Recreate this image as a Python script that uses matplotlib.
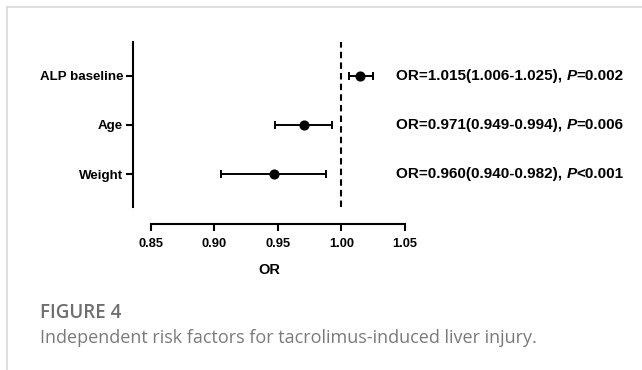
import matplotlib
matplotlib.use("Agg")
import matplotlib.pyplot as plt
from matplotlib.lines import Line2D

# values
factors = ["Weight", "Age", "ALP baseline"]
or_point = [0.947, 0.971, 1.015]
ci_low = [0.905, 0.948, 1.006]
ci_high = [0.988, 0.993, 1.025]
or_text = ["OR=0.960(0.940-0.982), ", "OR=0.971(0.949-0.994), ", "OR=1.015(1.006-1.025), "]
p_text = ["<0.001", "=0.006", "=0.002"]
xticks = [0.85, 0.90, 0.95, 1.00, 1.05]

W, H = 642, 370
plt.rcParams["font.family"] = ["Liberation Sans", "DejaVu Sans"]

fig = plt.figure(figsize=(W / 100, H / 100), dpi=100)

# grey frame (left + top)
fig.add_artist(Line2D([7 / W, 7 / W], [0, 1 - 7 / H], transform=fig.transFigure, color="#d8d8d8", lw=1.2))
fig.add_artist(Line2D([7 / W, 1], [1 - 7 / H, 1 - 7 / H], transform=fig.transFigure, color="#d8d8d8", lw=1.2))

ax = fig.add_axes([133 / W, (H - 207) / H, (404.7 - 133) / W, (207 - 42) / H])
ax.set_xlim(0.8358, 1.05)
ax.set_ylim(-0.67, 2.686)

ypos = list(range(len(factors)))
xerr = [[p - lo for p, lo in zip(or_point, ci_low)], [hi - p for p, hi in zip(or_point, ci_high)]]
ax.errorbar(or_point, ypos, xerr=xerr, fmt="o", color="black", ms=6.3, elinewidth=1.4,
            capsize=2.9, capthick=1.4, zorder=3)
ax.axvline(1.0, color="black", lw=1.5, dashes=(3.1, 2.0), ymin=0, ymax=1.0)

for sp in ["top", "right"]:
    ax.spines[sp].set_visible(False)
ax.spines["left"].set_linewidth(1.5)
ax.spines["bottom"].set_linewidth(1.5)
ax.spines["bottom"].set_position(("outward", 12.5))
ax.spines["bottom"].set_bounds(0.85, 1.05)

ax.set_xticks(xticks)
ax.set_xticklabels([f"{v:.2f}" for v in xticks], fontsize=9.3, fontweight="bold")
ax.set_yticks(ypos)
ax.set_yticklabels(factors, fontsize=9.6, fontweight="bold")
ax.tick_params(axis="both", length=5, width=1.5, color="black")
ax.tick_params(axis="y", pad=2)
ax.tick_params(axis="x", pad=5)
ax.set_xlabel("OR", fontsize=10.5, fontweight="bold", labelpad=9)

for y, t1, t2 in zip(ypos, or_text, p_text):
    a = ax.text(1.0431, y, t1, fontsize=11, fontweight="bold", va="center", ha="left", clip_on=False)
    b = ax.annotate("P", xy=(1, 0), xycoords=a, va="bottom", ha="left",
                    fontsize=11, fontweight="bold", fontstyle="italic")
    ax.annotate(t2, xy=(1, 0), xycoords=b, va="bottom", ha="left", fontsize=11, fontweight="bold")

fig.text(40 / W, 1 - 318 / H, "FIGURE 4", fontsize=13.5, color="#6e6e6e", fontfamily="Open Sans",
         fontweight="semibold", va="baseline")
fig.text(40 / W, 1 - 343 / H, "Independent risk factors for tacrolimus-induced liver injury.",
         fontsize=13.0, color="#7a7a7a", fontfamily="Open Sans", va="baseline")

fig.savefig("out.png", dpi=100)
